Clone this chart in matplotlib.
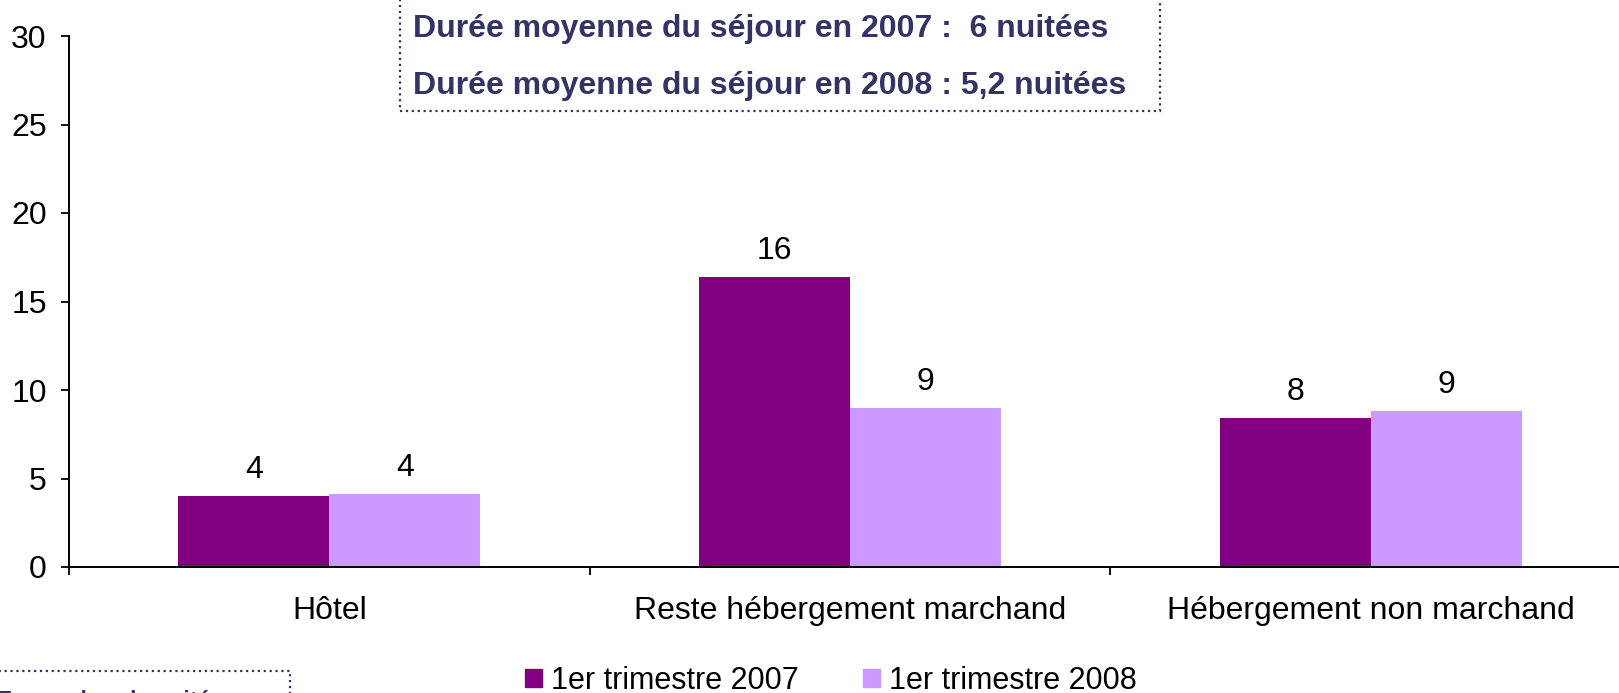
import numpy as np
import matplotlib
matplotlib.use("Agg")
import matplotlib.pyplot as plt
from matplotlib.patches import Rectangle, Patch

plt.rcParams['font.family'] = ['Liberation Sans', 'DejaVu Sans']

categories = ["Hôtel", "Reste hébergement marchand", "Hébergement non marchand"]
series_names = ["1er trimestre 2007", "1er trimestre 2008"]
nuitees_2007 = [4.0, 16.4, 8.4]
nuitees_2008 = [4.1, 9.0, 8.8]
info_lines = ["Durée moyenne du séjour en 2007 :  6 nuitées",
              "Durée moyenne du séjour en 2008 : 5,2 nuitées"]
unit_note = "En nombre de nuitées"

col_2007 = "#800080"
col_2008 = "#CC99FF"
navy = "#333366"

fig = plt.figure(figsize=(16.19, 6.93), dpi=100)
ax = fig.add_axes([69 / 1619, 1 - 567 / 693, 1562 / 1619, 531 / 693])

x = np.arange(len(categories))
w = 0.29
b1 = ax.bar(x - w / 2, nuitees_2007, w, color=col_2007)
b2 = ax.bar(x + w / 2, nuitees_2008, w, color=col_2008)
for bars in (b1, b2):
    ax.bar_label(bars, fmt="%.0f", padding=8, fontsize=23)

ax.set_xlim(-0.5, 2.5)
ax.set_ylim(0, 30)
ax.set_yticks(range(0, 31, 5))
ax.tick_params(axis='y', labelsize=23, length=6, width=1.3, pad=10)

# category boundaries carry the ticks, centres carry the labels
ax.set_xticks([-0.5, 0.5, 1.5, 2.5])
ax.set_xticklabels([])
ax.set_xticks(x, minor=True)
ax.set_xticklabels(categories, minor=True)
ax.tick_params(axis='x', which='major', length=6, width=1.3)
ax.tick_params(axis='x', which='minor', length=0, labelsize=23, pad=21)

for s in ('top', 'right'):
    ax.spines[s].set_visible(False)
for s in ('left', 'bottom'):
    ax.spines[s].set_linewidth(1.4)

# boxed notes
fig.add_artist(Rectangle((400 / 1619, 1 - 110.5 / 693), 760 / 1619, 0.3,
                         transform=fig.transFigure, fill=False, ec=navy,
                         lw=1.6, ls=':'))
fig.text(413 / 1619, 1 - 29 / 693, info_lines[0], fontsize=23, fontweight='bold',
         color=navy, va='center', ha='left')
fig.text(413 / 1619, 1 - 86 / 693, info_lines[1], fontsize=23, fontweight='bold',
         color=navy, va='center', ha='left')

fig.add_artist(Rectangle((-0.05, -0.1), 0.05 + 290 / 1619, 0.1 + 1 - 671 / 693,
                         transform=fig.transFigure, fill=False, ec=navy,
                         lw=1.6, ls=':'))
fig.text(-3 / 1619, 1 - 690 / 693, unit_note, fontsize=16.5, fontweight='bold',
         color=navy, va='top', ha='left')

handles = [Patch(color=col_2007), Patch(color=col_2008)]
fig.legend(handles, series_names, loc='center left',
           bbox_to_anchor=(525 / 1619, 1 - 681 / 693), ncol=2, frameon=False,
           fontsize=22, handlelength=0.55, handleheight=0.55, handletextpad=0.3,
           columnspacing=2.1, borderpad=0, borderaxespad=0)

fig.savefig("out.png", dpi=100)
